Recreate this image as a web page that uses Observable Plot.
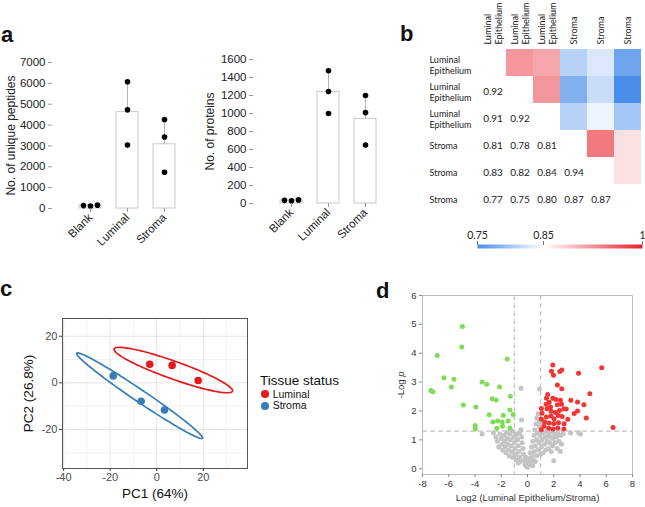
<!DOCTYPE html>
<html><head><meta charset="utf-8">
<script src="https://cdn.jsdelivr.net/npm/d3@7"></script>
<script src="https://cdn.jsdelivr.net/npm/@observablehq/plot@0.6"></script>
<style>
html,body{margin:0;padding:0;background:#fff;}
#fig{position:relative;width:645px;height:507px;overflow:hidden;font-family:"Liberation Sans",Arial,sans-serif;color:#111;}
.panel{position:absolute;}
.panel svg{display:block;}
#pa1 g[aria-label$="tick label"] text, #pa2 g[aria-label$="tick label"] text {font-size:11.5px !important;font-family:"Liberation Sans",Arial,sans-serif !important;}
#pc g[aria-label$="tick label"] text {font-size:11px !important;font-family:"Liberation Sans",Arial,sans-serif !important;}
#pd g[aria-label$="tick label"] text {font-size:9.5px !important;font-family:"Liberation Sans",Arial,sans-serif !important;}
#pbar g[aria-label$="tick label"] text {font-size:10.5px !important;}
.plab{position:absolute;font-weight:bold;font-size:22px;line-height:22px;font-family:"Liberation Sans",Arial,sans-serif;}
.leg{position:absolute;white-space:nowrap;}
.sw{position:absolute;width:7.6px;height:7.6px;border-radius:50%;}
</style></head><body><div id="fig"></div>
<script>
// ---------- panel a data ----------
const barCats = ["Blank", "Luminal", "Stroma"];
const peptideMean = [140, 4620, 3080];
const peptideSD = [20, 1460, 1190];
const peptideReps = [[140, 120, 160], [6080, 4730, 3040], [4270, 3430, 1740]];
const proteinMean = [35, 1240, 940];
const proteinSD = [5, 235, 260];
const proteinReps = [[35, 30, 40], [1475, 1245, 1000], [1200, 1010, 650]];

// ---------- panel b data ----------
const hmNames = ["Luminal\nEpithelium", "Luminal\nEpithelium", "Luminal\nEpithelium", "Stroma", "Stroma", "Stroma"];
const corrRows = [
  [1.00, 0.92, 0.91, 0.81, 0.83, 0.77],
  [0.92, 1.00, 0.92, 0.78, 0.82, 0.75],
  [0.91, 0.92, 1.00, 0.81, 0.84, 0.80],
  [0.81, 0.78, 0.81, 1.00, 0.94, 0.87],
  [0.83, 0.82, 0.84, 0.94, 1.00, 0.87],
  [0.77, 0.75, 0.80, 0.87, 0.87, 1.00]
];
const corrTicks = [0.75, 0.85, 1];

// ---------- panel c data ----------
const pcaGroup = ["Luminal", "Luminal", "Luminal", "Stroma", "Stroma", "Stroma"];
const pc1 = [-3.0, 6.6, 17.8, -18.7, -6.7, 3.3];
const pc2 = [8.0, 7.5, 1.0, 3.0, -7.9, -11.6];
const ellipseGroups = ["Luminal", "Stroma"];
const ellipseSemiMajor = [27.0, 32.6];
const ellipseSemiMinor = [3.8, 2.6];
const ellipseAngleDeg = [-19.6, -34.0];

// ---------- panel d data ----------
const volcanoGreen = [
  [-4.96, 4.93], [-5.01, 4.22], [-6.88, 3.92], [-6.37, 3.15], [-5.6, 3.10], [-5.8, 2.83],
  [-7.36, 2.71], [-7.2, 2.67], [-4.89, 2.21], [-3.94, 2.14], [-1.54, 3.80], [-3.46, 3.00],
  [-3.1, 2.93], [-2.13, 2.83], [-2.69, 2.42], [-2.39, 2.38], [-1.31, 2.51], [-1.34, 2.03],
  [-1.09, 1.88], [-2.92, 1.87], [-1.85, 1.85], [-2.64, 1.62], [-2.28, 1.65], [-1.93, 1.62],
  [-1.47, 1.65], [-1.9, 1.47], [-2.34, 1.40], [-1.34, 1.41], [-3.99, 1.50], [-3.97, 1.38]
];
const volcanoRed = [
  [5.65, 3.50], [3.89, 3.31], [1.93, 3.59], [1.83, 3.38], [1.98, 3.24], [2.46, 3.37], [2.61, 3.42],
  [2.28, 2.90], [2.61, 2.77], [4.75, 2.60], [1.54, 2.57], [3.3, 2.37], [3.81, 2.31], [4.3, 2.22],
  [4.48, 1.76], [3.56, 1.91], [3.81, 2.00], [6.52, 1.43],
  [1.44, 2.44], [1.93, 2.44], [2.16, 2.40], [1.65, 2.30], [1.42, 2.23], [2.28, 2.22], [2.59, 2.23],
  [2.95, 2.07], [2.77, 2.08], [2.44, 2.02], [2.13, 1.95], [1.8, 1.99], [1.06, 2.09], [1.11, 1.92],
  [1.44, 1.79], [1.78, 1.83], [2.03, 1.73], [2.34, 1.84], [2.64, 1.81], [3.07, 1.71], [1.31, 1.62],
  [1.65, 1.58], [2.0, 1.57], [2.36, 1.59], [2.79, 1.56], [1.05, 1.72], [1.26, 1.47], [1.62, 1.40],
  [1.95, 1.38], [2.31, 1.41], [2.77, 1.38], [1.05, 1.35], [1.49, 2.08], [2.51, 2.37], [1.75, 2.14]
];
const volcanoGray = [
  [-0.5, 2.79], [0.9, 2.76], [-0.45, 1.69], [-3.46, 1.20], [3.28, 1.24], [3.9, 1.25], [4.04, 1.20],
  [-2.4, 1.1], [-2.3, 0.95], [-2.2, 0.75], [-2.1, 1.2], [-2.0, 1.05], [-1.95, 0.85], [-1.9, 0.65],
  [-1.8, 1.15], [-1.75, 0.95], [-1.7, 0.75], [-1.65, 0.55], [-1.6, 1.25], [-1.55, 1.05], [-1.5, 0.85],
  [-1.45, 0.65], [-1.4, 0.45], [-1.35, 1.2], [-1.3, 1.0], [-1.25, 0.8], [-1.2, 0.6], [-1.15, 0.4],
  [-1.1, 1.3], [-1.05, 1.1], [-1.0, 0.9], [-0.95, 0.7], [-0.9, 0.5], [-0.85, 0.3], [-0.8, 1.2],
  [-0.75, 1.0], [-0.7, 0.8], [-0.65, 0.6], [-0.6, 0.4], [-0.55, 0.25], [-0.5, 1.35], [-0.45, 1.1],
  [-0.4, 0.9], [-0.35, 0.7], [-0.3, 0.5], [-0.25, 0.3], [-0.2, 0.15], [-0.15, 0.4], [-0.1, 0.1],
  [-0.05, 0.25], [0, 0.05], [-0.6, 1.25], [-0.9, 1.15], [-1.3, 1.3], [-2.6, 1.25], [-1.0, 0.45], [-0.7, 0.2],
  [0.1, 0.15], [0.15, 0.35], [0.2, 0.55], [0.25, 0.2], [0.3, 0.75], [0.35, 0.45], [0.4, 0.95], [0.45, 0.3],
  [0.5, 1.15], [0.5, 0.6], [0.55, 1.35], [0.6, 0.8], [0.65, 1.55], [0.7, 1.0], [0.7, 0.45], [0.75, 1.25],
  [0.8, 0.65], [0.85, 1.7], [0.9, 1.45], [0.9, 0.9], [0.95, 1.15], [1.0, 0.5], [1.0, 1.6], [1.05, 0.75],
  [1.1, 1.0], [1.15, 1.25], [1.2, 0.55], [1.25, 1.5], [1.3, 0.85], [1.35, 1.1], [1.4, 0.65], [1.45, 1.3],
  [1.5, 0.95], [1.55, 1.15], [1.6, 0.7], [1.65, 1.25], [1.7, 0.9], [1.75, 1.1], [1.8, 0.6], [1.85, 1.3],
  [1.9, 0.8], [1.95, 1.05], [2.0, 0.28], [2.05, 1.2], [2.1, 0.9], [2.2, 1.1], [2.25, 0.7], [2.3, 1.25],
  [2.4, 0.95], [2.5, 1.15], [2.6, 0.85], [2.7, 1.2], [2.5, 0.6], [0.6, 0.25], [0.4, 0.1], [0.8, 1.9], [0.7, 1.75]
];
const volcanoXTicks = [-8, -6, -4, -2, 0, 2, 4, 6, 8];
const volcanoYTicks = [0, 1, 2, 3, 4, 5, 6];

// ---------- layout helpers ----------
const fig = document.getElementById("fig");
function place(el, id, left, top, w, h) {
  const d = document.createElement("div");
  d.className = "panel"; d.id = id;
  d.style.left = left + "px"; d.style.top = top + "px";
  d.style.width = w + "px"; d.style.height = h + "px";
  d.appendChild(el);
  fig.appendChild(d);
}
function addLabel(txt, left, top) {
  const d = document.createElement("div");
  d.className = "plab"; d.textContent = txt;
  d.style.left = left + "px"; d.style.top = top + "px";
  fig.appendChild(d);
}
const sans = "Liberation Sans, Arial, sans-serif";

// ---------- panel a ----------
function barPanel(mean, sd, reps, yMax, yStep, ylabel, W, ml, mr, mt, mb, labelDx) {
  const bars = barCats.map((c, i) => ({cat: c, mean: mean[i], top: mean[i] + sd[i]}));
  const dots = barCats.flatMap((c, i) => reps[i].map((v, r) => ({cat: c, v, rep: r})));
  const marks = [
    Plot.barY(bars, {x: "cat", y: "mean", fill: "white", stroke: "#c8c8c8", strokeWidth: 1}),
    Plot.ruleX(bars.filter(d => d.cat !== "Blank"), {x: "cat", y1: "mean", y2: "top", stroke: "#b4b4b4"})
  ];
  for (let r = 0; r < 3; r++) {
    marks.push(Plot.dot(dots.filter(d => d.cat === "Blank" && d.rep === r), {x: "cat", y: "v", r: 2.8, fill: "black", dx: (r - 1) * 7}));
  }
  marks.push(Plot.dot(dots.filter(d => d.cat !== "Blank"), {x: "cat", y: "v", r: 2.8, fill: "black"}));
  marks.push(Plot.axisY(d3.range(0, yMax + 1, yStep), {tickSize: 4, tickPadding: 3, stroke: "#999", line: true, tickFormat: d => String(d), label: null, fill: "#222"}));
  marks.push(Plot.axisX({tickRotate: -45, tickSize: 4, tickPadding: 3, stroke: "#999", line: true, label: null, fill: "#222"}));
  marks.push(Plot.text([ylabel], {frameAnchor: "left", textAnchor: "middle", rotate: -90, dx: labelDx, fontSize: 12, fill: "#222"}));
  return Plot.plot({
    width: W, height: 270, marginLeft: ml, marginRight: mr, marginTop: mt, marginBottom: mb,
    style: {fontFamily: sans, background: "transparent", color: "#222"},
    x: {domain: barCats, padding: 0.41, paddingOuter: 0.72, label: null},
    y: {domain: [0, yMax], label: null},
    marks
  });
}
place(barPanel(peptideMean, peptideSD, peptideReps, 7000, 1000, "No. of unique peptides", 215, 52, 13, 62, 62, -41), "pa1", 0, 0, 215, 270);
place(barPanel(proteinMean, proteinSD, proteinReps, 1600, 200, "No. of proteins", 210, 53, 7, 59, 67, -43), "pa2", 200, 0, 210, 270);

// ---------- panel b ----------
const colorSpec = {type: "linear", domain: [0.75, 0.85, 1], range: ["#4a8eea", "#ffffff", "#e8202a"], interpolate: "rgb"};
const cells = corrRows.flatMap((row, i) => row.map((v, j) => ({row: i, col: j, v})));
const heat = Plot.plot({
  width: 225, height: 222, marginLeft: 58, marginRight: 3, marginTop: 47, marginBottom: 10,
  style: {fontFamily: "Lato, 'Open Sans', sans-serif", background: "transparent", color: "#222"},
  x: {type: "band", domain: d3.range(6), padding: 0, axis: null},
  y: {type: "band", domain: d3.range(6), padding: 0, axis: null},
  color: colorSpec,
  marks: [
    Plot.cell(cells.filter(d => d.col > d.row), {x: "col", y: "row", fill: "v"}),
    Plot.text(cells.filter(d => d.row > d.col), {x: "col", y: "row", text: d => d.v.toFixed(2), fontSize: 10, dy: 2, fill: "#222"}),
    Plot.text(d3.range(6), {x: d => d, text: i => hmNames[i], frameAnchor: "top", rotate: -90, textAnchor: "start", lineAnchor: "middle", lineHeight: 1.15, dy: -3, fontSize: 9, fill: "#222"}),
    Plot.text(d3.range(6), {y: d => d, text: i => hmNames[i], frameAnchor: "left", textAnchor: "start", lineAnchor: "middle", lineHeight: 1.2, dx: -49, dy: 2, fontSize: 9, fill: "#222"}),
    Plot.ruleY([5], {y: d => d, dy: 27.5, stroke: "#eeeeee"})
  ]
});
place(heat, "pb", 420, 0, 225, 222);

const bar = Plot.plot({
  width: 225, height: 30, marginLeft: 57, marginRight: 3, marginTop: 22, marginBottom: 4,
  style: {fontFamily: "Lato, 'Open Sans', sans-serif", background: "transparent", color: "#222"},
  x: {domain: [0.75, 1]},
  y: {domain: [0, 1], axis: null},
  color: colorSpec,
  marks: [
    Plot.raster({x1: 0.75, x2: 1, y1: 0, y2: 1, fill: (x, y) => x, width: 165, height: 1, imageRendering: "auto"}),
    Plot.axisX(corrTicks, {anchor: "top", tickSize: 4, tickPadding: 2, tickFormat: d => String(d), stroke: "#777", fill: "#222", label: null})
  ]
});
place(bar, "pbar", 420, 222, 225, 30);

// ---------- panel c ----------
const pca = pc1.map((x, i) => ({x, y: pc2[i], g: pcaGroup[i]}));
const ellipsePts = ellipseGroups.flatMap((g, k) => {
  const pts = pca.filter(d => d.g === g);
  const cx = d3.mean(pts, d => d.x), cy = d3.mean(pts, d => d.y);
  const a = ellipseSemiMajor[k], b = ellipseSemiMinor[k], th = ellipseAngleDeg[k] * Math.PI / 180;
  return d3.range(0, 360, 3).map(t => {
    const r = t * Math.PI / 180;
    const u = a * Math.cos(r), v = b * Math.sin(r);
    return {g, x: cx + u * Math.cos(th) - v * Math.sin(th), y: cy + u * Math.sin(th) + v * Math.cos(th)};
  });
});
const pcaPlot = Plot.plot({
  width: 340, height: 227, marginLeft: 62, marginRight: 93, marginTop: 38, marginBottom: 39,
  style: {fontFamily: sans, background: "transparent", color: "#222"},
  x: {domain: [-40.5, 39]},
  y: {domain: [-36.7, 27.6]},
  color: {domain: ellipseGroups, range: ["#e41a1c", "#377eb8"]},
  marks: [
    Plot.gridX([-30, -10, 10, 30], {stroke: "#f3f3f3", strokeOpacity: 1}),
    Plot.gridY([-30, -10, 10], {stroke: "#f3f3f3", strokeOpacity: 1}),
    Plot.gridX([-40, -20, 0, 20], {stroke: "#e4e4e4", strokeOpacity: 1}),
    Plot.gridY([-20, 0, 20], {stroke: "#e4e4e4", strokeOpacity: 1}),
    Plot.line(ellipsePts, {x: "x", y: "y", z: "g", stroke: "g", curve: "linear-closed", strokeWidth: 1.7}),
    Plot.dot(pca, {x: "x", y: "y", fill: "g", r: 3.8}),
    Plot.frame({stroke: "#555"}),
    Plot.axisX([-40, -20, 0, 20], {tickSize: 3, tickPadding: 2, tickFormat: d => String(d), stroke: "#444", fill: "#4d4d4d", label: null}),
    Plot.axisY([-20, 0, 20], {tickSize: 3, tickPadding: 2, tickFormat: d => String(d), stroke: "#444", fill: "#4d4d4d", label: null}),
    Plot.text(["PC1 (64%)"], {frameAnchor: "bottom", dy: 29, fontSize: 13.5, fill: "#111"}),
    Plot.text(["PC2 (26.8%)"], {frameAnchor: "left", textAnchor: "middle", dx: -34, rotate: -90, fontSize: 13.5, fill: "#111"})
  ]
});
place(pcaPlot, "pc", 0, 280, 340, 227);

// legend for c
(function () {
  const t = document.createElement("div");
  t.className = "leg"; t.textContent = "Tissue status";
  t.style.cssText += "left:260px;top:373.6px;font-size:13.5px;line-height:13.5px;";
  fig.appendChild(t);
  const items = [["Luminal", "#e41a1c", 394, 388.8], ["Stroma", "#377eb8", 406, 400.4]];
  for (const [name, col, cy, ty] of items) {
    const s = document.createElement("div");
    s.className = "sw"; s.style.background = col;
    s.style.left = (265 - 3.8) + "px"; s.style.top = (cy - 3.8) + "px";
    fig.appendChild(s);
    const l = document.createElement("div");
    l.className = "leg"; l.textContent = name;
    l.style.cssText += `left:272.7px;top:${ty}px;font-size:10.5px;line-height:10.5px;`;
    fig.appendChild(l);
  }
})();

// ---------- panel d ----------
const volc = Plot.plot({
  width: 315, height: 237, marginLeft: 92, marginRight: 13, marginTop: 25, marginBottom: 33,
  style: {fontFamily: sans, background: "transparent", color: "#222"},
  x: {domain: [-8, 8]},
  y: {domain: [-0.2, 6]},
  marks: [
    Plot.frame({stroke: "#bdbdbd"}),
    Plot.dot(volcanoGray, {x: d => d[0], y: d => d[1], r: 2.5, fill: "#c4c4c4"}),
    Plot.ruleX([-1, 1], {stroke: "#c4c4c4", strokeDasharray: "5,3", strokeWidth: 1.2}),
    Plot.ruleY([1.3], {stroke: "#c4c4c4", strokeDasharray: "5,3", strokeWidth: 1.2}),
    Plot.dot(volcanoGreen, {x: d => d[0], y: d => d[1], r: 2.5, fill: "#7fdc58"}),
    Plot.dot(volcanoRed, {x: d => d[0], y: d => d[1], r: 2.5, fill: "#f23434"}),
    Plot.axisX(volcanoXTicks, {tickSize: 3, tickPadding: 3, tickFormat: d => String(d), stroke: "#888", fill: "#333", label: null}),
    Plot.axisY(volcanoYTicks, {tickSize: 3, tickPadding: 3, tickFormat: d => String(d), stroke: "#888", fill: "#333", label: null}),
    Plot.text(["Log2 (Luminal Epithelium/Stroma)"], {frameAnchor: "bottom", dy: 26, fontSize: 9.5, fill: "#333"}),
    Plot.text(["-Log p"], {frameAnchor: "left", textAnchor: "middle", dx: -22, rotate: -90, fontSize: 9.5, fill: "#333"})
  ]
});
d3.select(volc).selectAll("text").filter(function () { return this.textContent === "-Log p"; })
  .each(function () {
    const t = d3.select(this);
    t.text(null);
    t.append("tspan").text("-Log ");
    t.append("tspan").attr("font-style", "italic").text("p");
  });
place(volc, "pd", 330, 270, 315, 237);

// ---------- panel letters ----------
addLabel("a", 1, 23.5);
addLabel("b", 400, 22.5);
addLabel("c", 0, 278);
addLabel("d", 376, 279.5);
</script>
</body></html>
